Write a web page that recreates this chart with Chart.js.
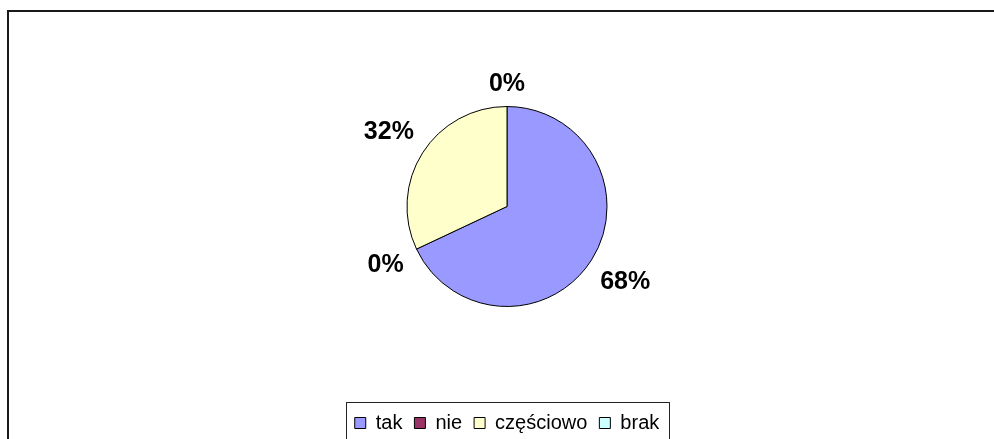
<!DOCTYPE html>
<html>
<head>
<meta charset="utf-8">
<script src="https://cdn.jsdelivr.net/npm/chart.js@4/dist/chart.umd.min.js"></script>
<style>
html,body{margin:0;padding:0;background:#fff;overflow:hidden;width:994px;height:439px;}
canvas{position:absolute;left:0;top:0;}
</style>
</head>
<body>
<canvas id="c" width="994" height="443"></canvas>
<script>
const categories = ["tak", "nie", "częściowo", "brak"];
const values = [68, 0, 32, 0];
const colors = ["#9999FF", "#993366", "#FFFFCC", "#CCFFFF"];

const framePlugin = {
  id: 'frame',
  beforeDraw(chart) {
    const ctx = chart.ctx;
    ctx.save();
    ctx.fillStyle = '#fff';
    ctx.fillRect(0, 0, chart.width, chart.height);
    ctx.fillStyle = '#1a1a1a';
    ctx.fillRect(7, 10, 2, chart.height);
    ctx.fillRect(7, 10, chart.width, 2);
    ctx.restore();
  }
};

const legendBoxPlugin = {
  id: 'legendBox',
  afterDraw(chart) {
    const boxes = chart.legend && chart.legend.legendHitBoxes;
    if (!boxes || !boxes.length) return;
    const first = boxes[0], last = boxes[boxes.length - 1];
    const l = Math.round(first.left - 9) + 0.5;
    const r = Math.round(last.left + last.width + 10) + 0.5;
    const ctx = chart.ctx;
    ctx.save();
    ctx.strokeStyle = '#222';
    ctx.lineWidth = 1;
    ctx.strokeRect(l, 402.5, r - l, chart.height);
    ctx.restore();
  }
};

const labelPlugin = {
  id: 'pctLabels',
  afterDatasetsDraw(chart) {
    const meta = chart.getDatasetMeta(0);
    const data = chart.data.datasets[0].data;
    const total = data.reduce((a, b) => a + b, 0);
    const ctx = chart.ctx;
    ctx.save();
    ctx.font = 'bold 25px "Liberation Sans", Arial, sans-serif';
    ctx.fillStyle = '#000';
    ctx.textAlign = 'center';
    ctx.textBaseline = 'middle';
    const h = 18;
    meta.data.forEach((arc, i) => {
      const p = arc.getProps(['x', 'y', 'startAngle', 'endAngle', 'outerRadius'], true);
      const mid = (p.startAngle + p.endAngle) / 2;
      const txt = Math.round(data[i] / total * 100) + '%';
      const w = ctx.measureText(txt).width;
      const cx = Math.cos(mid), sy = Math.sin(mid);
      const d = p.outerRadius + 14 + Math.abs(cx) * w / 2 + Math.abs(sy) * h / 2;
      ctx.fillText(txt, p.x + cx * d, p.y + sy * d + 1);
    });
    ctx.restore();
  }
};

new Chart(document.getElementById('c'), {
  type: 'pie',
  data: {
    labels: categories,
    datasets: [{
      data: values,
      backgroundColor: colors,
      borderColor: '#000',
      borderWidth: 1,
      radius: 100
    }]
  },
  options: {
    responsive: false,
    devicePixelRatio: 1,
    animation: false,
    layout: { padding: { left: 20, right: 0, top: 12, bottom: 0 } },
    plugins: {
      tooltip: { enabled: false },
      legend: {
        position: 'bottom',
        labels: {
          boxWidth: 11,
          boxHeight: 11,
          padding: 12,
          color: '#000',
          font: { size: 20, family: '"Liberation Sans", Arial, sans-serif' }
        }
      }
    }
  },
  plugins: [framePlugin, legendBoxPlugin, labelPlugin]
});
</script>
</body>
</html>
